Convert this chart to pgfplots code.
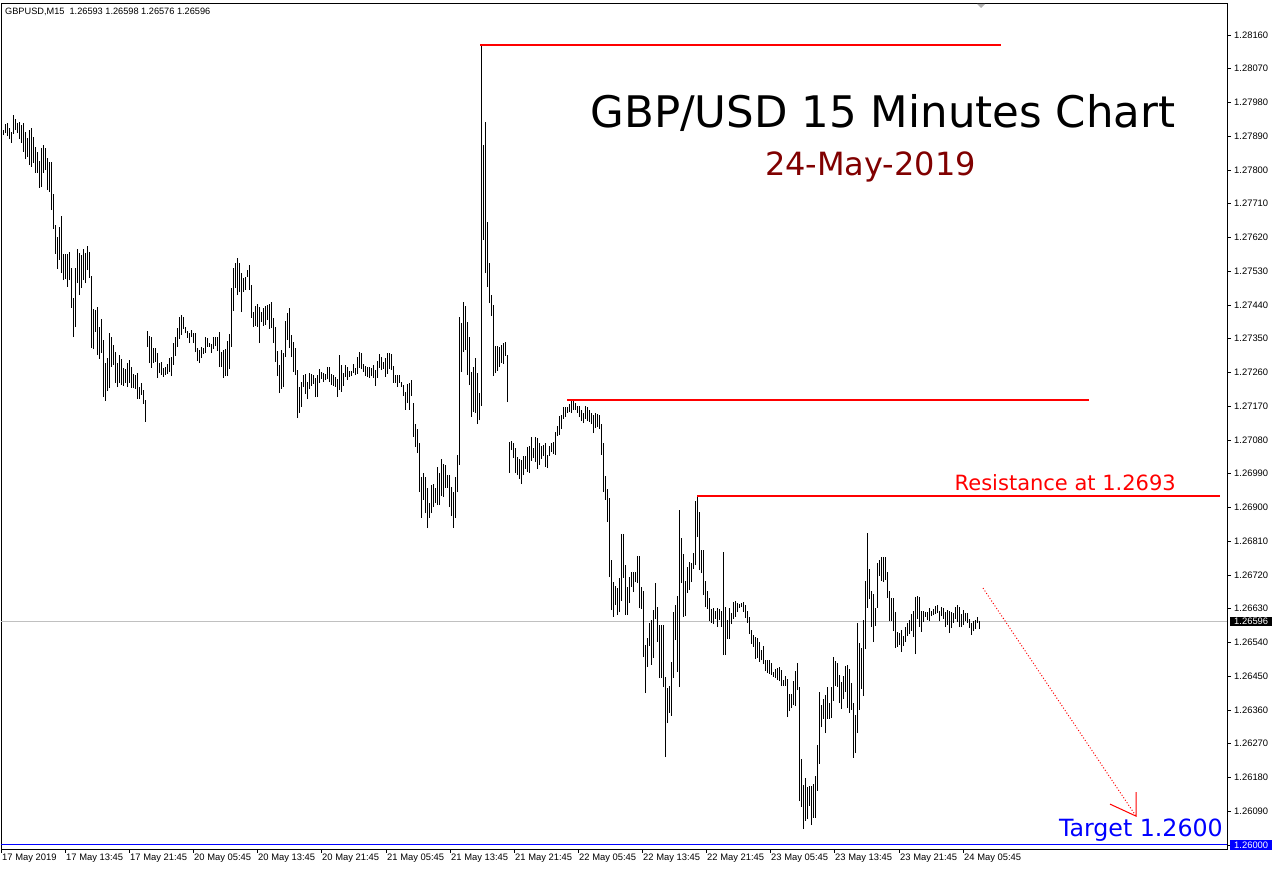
\documentclass[border=0pt]{standalone}
\usepackage{pgfplots}
\pgfplotsset{compat=1.18}
\usepackage{pgfplotstable}
\usepackage{fontspec}
\setmainfont{Liberation Sans}
\newfontfamily\dejavu{DejaVu Sans}
\definecolor{darkred}{RGB}{128,0,0}
\definecolor{bidgray}{RGB}{192,192,192}
\definecolor{mtblue}{RGB}{0,0,255}

% 15-minute bars of GBP/USD: high and low of each bar, oldest first
\pgfplotstableread{
h l
1.27898 1.27872
1.27906 1.27893
1.27922 1.27898
1.27925 1.27890
1.27912 1.27882
1.27901 1.27872
1.27946 1.27896
1.27936 1.27906
1.27925 1.27898
1.27928 1.27882
1.27920 1.27872
1.27925 1.27848
1.27901 1.27829
1.27885 1.27834
1.27906 1.27813
1.27912 1.27808
1.27888 1.27818
1.27861 1.27792
1.27848 1.27792
1.27824 1.27752
1.27858 1.27754
1.27866 1.27792
1.27858 1.27800
1.27832 1.27746
1.27821 1.27741
1.27821 1.27693
1.27736 1.27642
1.27653 1.27576
1.27621 1.27536
1.27648 1.27560
1.27677 1.27525
1.27576 1.27506
1.27576 1.27509
1.27576 1.27488
1.27581 1.27506
1.27538 1.27432
1.27458 1.27354
1.27538 1.27381
1.27589 1.27498
1.27578 1.27466
1.27573 1.27485
1.27589 1.27506
1.27578 1.27498
1.27597 1.27533
1.27581 1.27512
1.27517 1.27325
1.27429 1.27322
1.27426 1.27368
1.27434 1.27306
1.27381 1.27296
1.27402 1.27312
1.27346 1.27194
1.27285 1.27184
1.27298 1.27210
1.27365 1.27218
1.27354 1.27274
1.27333 1.27280
1.27314 1.27232
1.27285 1.27221
1.27306 1.27232
1.27296 1.27226
1.27272 1.27224
1.27269 1.27232
1.27285 1.27221
1.27293 1.27232
1.27274 1.27218
1.27256 1.27218
1.27253 1.27216
1.27258 1.27189
1.27221 1.27189
1.27232 1.27200
1.27213 1.27176
1.27186 1.27128
1.27370 1.27328
1.27357 1.27285
1.27354 1.27272
1.27325 1.27285
1.27325 1.27288
1.27312 1.27245
1.27285 1.27258
1.27288 1.27253
1.27272 1.27248
1.27274 1.27253
1.27282 1.27256
1.27298 1.27261
1.27301 1.27250
1.27338 1.27280
1.27354 1.27304
1.27378 1.27328
1.27408 1.27349
1.27413 1.27360
1.27408 1.27376
1.27381 1.27365
1.27370 1.27352
1.27365 1.27338
1.27373 1.27354
1.27365 1.27338
1.27365 1.27314
1.27325 1.27290
1.27320 1.27285
1.27328 1.27298
1.27325 1.27309
1.27354 1.27312
1.27352 1.27328
1.27338 1.27328
1.27336 1.27312
1.27354 1.27322
1.27354 1.27330
1.27354 1.27317
1.27368 1.27274
1.27314 1.27274
1.27320 1.27245
1.27322 1.27250
1.27344 1.27250
1.27362 1.27269
1.27485 1.27328
1.27538 1.27424
1.27552 1.27485
1.27565 1.27466
1.27552 1.27474
1.27525 1.27421
1.27512 1.27474
1.27514 1.27480
1.27533 1.27514
1.27546 1.27480
1.27493 1.27405
1.27421 1.27381
1.27437 1.27384
1.27442 1.27381
1.27434 1.27338
1.27421 1.27394
1.27432 1.27384
1.27437 1.27386
1.27440 1.27400
1.27442 1.27376
1.27448 1.27378
1.27405 1.27338
1.27381 1.27288
1.27317 1.27250
1.27280 1.27205
1.27320 1.27216
1.27312 1.27221
1.27397 1.27301
1.27418 1.27346
1.27432 1.27325
1.27360 1.27301
1.27341 1.27261
1.27325 1.27253
1.27266 1.27138
1.27221 1.27152
1.27234 1.27168
1.27253 1.27221
1.27256 1.27202
1.27234 1.27189
1.27258 1.27216
1.27256 1.27224
1.27253 1.27229
1.27245 1.27194
1.27253 1.27194
1.27269 1.27232
1.27261 1.27242
1.27258 1.27234
1.27256 1.27240
1.27274 1.27242
1.27274 1.27234
1.27256 1.27226
1.27253 1.27224
1.27248 1.27221
1.27242 1.27194
1.27306 1.27213
1.27280 1.27208
1.27258 1.27224
1.27280 1.27248
1.27274 1.27240
1.27264 1.27248
1.27264 1.27250
1.27282 1.27258
1.27272 1.27253
1.27301 1.27256
1.27314 1.27272
1.27312 1.27269
1.27282 1.27261
1.27277 1.27250
1.27274 1.27248
1.27274 1.27245
1.27272 1.27250
1.27280 1.27245
1.27266 1.27224
1.27290 1.27245
1.27309 1.27272
1.27301 1.27266
1.27288 1.27269
1.27298 1.27248
1.27312 1.27256
1.27312 1.27269
1.27309 1.27266
1.27277 1.27232
1.27253 1.27232
1.27253 1.27221
1.27253 1.27232
1.27234 1.27221
1.27226 1.27197
1.27208 1.27160
1.27229 1.27178
1.27232 1.27160
1.27240 1.27197
1.27178 1.27088
1.27122 1.27061
1.27109 1.27045
1.27072 1.26941
1.26981 1.26872
1.26992 1.26920
1.26981 1.26885
1.26952 1.26845
1.26912 1.26872
1.26960 1.26885
1.26962 1.26901
1.26952 1.26912
1.27008 1.26906
1.26992 1.26906
1.27029 1.26930
1.27016 1.26928
1.27013 1.26952
1.26986 1.26952
1.26986 1.26901
1.26954 1.26877
1.26941 1.26845
1.26981 1.26872
1.27040 1.26941
1.27408 1.27013
1.27392 1.27261
1.27448 1.27314
1.27437 1.27320
1.27394 1.27253
1.27354 1.27226
1.27261 1.27141
1.27274 1.27154
1.27298 1.27152
1.27258 1.27122
1.27205 1.27133
1.28136 1.27170
1.27866 1.27613
1.27928 1.27525
1.27661 1.27488
1.27552 1.27445
1.27466 1.27410
1.27440 1.27250
1.27330 1.27258
1.27330 1.27264
1.27328 1.27274
1.27333 1.27285
1.27338 1.27282
1.27341 1.27304
1.27306 1.27181
1.27074 1.26992
1.27077 1.27053
1.27072 1.27032
1.27058 1.26992
1.27034 1.26986
1.27029 1.26976
1.27026 1.26962
1.27037 1.26986
1.27037 1.27002
1.27061 1.26994
1.27064 1.26992
1.27088 1.27024
1.27058 1.27032
1.27088 1.27021
1.27085 1.27002
1.27072 1.27013
1.27064 1.27029
1.27066 1.27037
1.27072 1.27008
1.27040 1.27005
1.27064 1.27037
1.27072 1.27048
1.27074 1.27042
1.27101 1.27040
1.27117 1.27090
1.27144 1.27093
1.27146 1.27109
1.27168 1.27136
1.27168 1.27141
1.27168 1.27152
1.27176 1.27154
1.27184 1.27152
1.27184 1.27160
1.27178 1.27160
1.27170 1.27152
1.27170 1.27141
1.27160 1.27130
1.27152 1.27125
1.27170 1.27136
1.27168 1.27130
1.27160 1.27128
1.27152 1.27122
1.27146 1.27098
1.27152 1.27112
1.27149 1.27114
1.27146 1.27109
1.27122 1.27040
1.27072 1.26941
1.26984 1.26920
1.26949 1.26861
1.26925 1.26714
1.26760 1.26626
1.26701 1.26608
1.26690 1.26640
1.26685 1.26613
1.26712 1.26621
1.26829 1.26650
1.26829 1.26712
1.26746 1.26613
1.26688 1.26613
1.26714 1.26645
1.26728 1.26688
1.26728 1.26674
1.26728 1.26701
1.26770 1.26698
1.26770 1.26632
1.26688 1.26629
1.26677 1.26501
1.26533 1.26405
1.26552 1.26474
1.26592 1.26530
1.26600 1.26480
1.26626 1.26498
1.26698 1.26602
1.26634 1.26541
1.26586 1.26445
1.26586 1.26445
1.26586 1.26421
1.26448 1.26234
1.26418 1.26325
1.26424 1.26352
1.26488 1.26344
1.26621 1.26445
1.26640 1.26546
1.26664 1.26461
1.26893 1.26421
1.26818 1.26698
1.26776 1.26608
1.26704 1.26610
1.26741 1.26672
1.26754 1.26680
1.26752 1.26701
1.26778 1.26736
1.26917 1.26746
1.26933 1.26821
1.26888 1.26733
1.26786 1.26725
1.26786 1.26666
1.26704 1.26634
1.26677 1.26629
1.26658 1.26597
1.26629 1.26592
1.26632 1.26589
1.26624 1.26602
1.26632 1.26581
1.26629 1.26600
1.26624 1.26581
1.26781 1.26506
1.26634 1.26506
1.26600 1.26549
1.26632 1.26549
1.26618 1.26589
1.26648 1.26602
1.26650 1.26608
1.26645 1.26621
1.26642 1.26632
1.26645 1.26634
1.26648 1.26621
1.26640 1.26605
1.26624 1.26592
1.26608 1.26562
1.26573 1.26536
1.26560 1.26528
1.26554 1.26496
1.26552 1.26498
1.26541 1.26488
1.26520 1.26493
1.26530 1.26482
1.26493 1.26464
1.26493 1.26458
1.26493 1.26456
1.26485 1.26453
1.26461 1.26448
1.26469 1.26445
1.26472 1.26440
1.26474 1.26437
1.26466 1.26424
1.26440 1.26424
1.26450 1.26424
1.26442 1.26341
1.26402 1.26357
1.26402 1.26365
1.26437 1.26373
1.26464 1.26370
1.26485 1.26413
1.26421 1.26117
1.26229 1.26101
1.26160 1.26042
1.26178 1.26064
1.26154 1.26069
1.26157 1.26104
1.26157 1.26053
1.26162 1.26072
1.26184 1.26072
1.26266 1.26144
1.26408 1.26216
1.26373 1.26314
1.26389 1.26336
1.26400 1.26298
1.26421 1.26336
1.26378 1.26336
1.26421 1.26338
1.26501 1.26384
1.26490 1.26424
1.26485 1.26421
1.26453 1.26378
1.26434 1.26362
1.26450 1.26389
1.26477 1.26408
1.26480 1.26365
1.26469 1.26352
1.26432 1.26360
1.26378 1.26232
1.26346 1.26245
1.26592 1.26298
1.26538 1.26360
1.26525 1.26416
1.26600 1.26397
1.26704 1.26522
1.26832 1.26632
1.26736 1.26656
1.26677 1.26581
1.26669 1.26541
1.26632 1.26584
1.26752 1.26632
1.26760 1.26717
1.26768 1.26704
1.26768 1.26701
1.26768 1.26706
1.26728 1.26658
1.26677 1.26597
1.26658 1.26597
1.26658 1.26570
1.26621 1.26525
1.26568 1.26528
1.26565 1.26533
1.26573 1.26514
1.26557 1.26530
1.26581 1.26541
1.26592 1.26557
1.26600 1.26562
1.26616 1.26570
1.26624 1.26554
1.26661 1.26509
1.26664 1.26602
1.26661 1.26581
1.26624 1.26568
1.26624 1.26594
1.26621 1.26608
1.26621 1.26600
1.26632 1.26597
1.26624 1.26610
1.26629 1.26613
1.26637 1.26616
1.26640 1.26618
1.26624 1.26597
1.26634 1.26610
1.26632 1.26602
1.26621 1.26581
1.26626 1.26586
1.26624 1.26565
1.26621 1.26578
1.26618 1.26592
1.26634 1.26602
1.26640 1.26594
1.26634 1.26581
1.26616 1.26581
1.26626 1.26586
1.26618 1.26597
1.26618 1.26592
1.26602 1.26578
1.26592 1.26560
1.26597 1.26570
1.26600 1.26576
1.26608 1.26592
1.26598 1.26576
}\bars

\begin{document}
\begin{tikzpicture}
\useasboundingbox (0pt,0pt) rectangle (1276pt,872pt);
\begin{axis}[
  at={(1pt,23pt)}, anchor=south west,
  scale only axis, width=1226pt, height=845.5pt,
  xmin=1, xmax=1227, ymin=1.259893, ymax=1.28244,
  clip=false,
  axis line style={black, line width=0.8pt},
  tick align=outside, xtick pos=left, ytick pos=right,
  xticklabel pos=left, yticklabel pos=right,
  major tick length=4pt, tick style={black, line width=0.8pt},
  xtick={1,65,129,193,257,321,386,450,514,578,642,706,770,834,899,963},
  xticklabels={17 May 2019,17 May 13:45,17 May 21:45,20 May 05:45,20 May 13:45,20 May 21:45,21 May 05:45,21 May 13:45,21 May 21:45,22 May 05:45,22 May 13:45,22 May 21:45,23 May 05:45,23 May 13:45,23 May 21:45,24 May 05:45},
  ytick={1.26000,1.26090,1.26180,1.26270,1.26360,1.26450,1.26540,1.26630,1.26720,1.26810,1.26900,1.26990,1.27080,1.27170,1.27260,1.27350,1.27440,1.27530,1.27620,1.27710,1.27800,1.27890,1.27980,1.28070,1.28160},
  yticklabels={1.26000,1.26090,1.26180,1.26270,1.26360,1.26450,1.26540,1.26630,1.26720,1.26810,1.26900,1.26990,1.27080,1.27170,1.27260,1.27350,1.27440,1.27530,1.27620,1.27710,1.27800,1.27890,1.27980,1.28070,1.28160},
  ticklabel style={font=\fontsize{9.4}{10}\selectfont, text=black},
  xticklabel style={anchor=north west, inner sep=0pt, xshift=1pt, yshift=-1pt},
  yticklabel style={anchor=west, inner sep=0pt, xshift=3pt},
]
% bid line and the 1.2600 level line
\addplot[bidgray, line width=1pt, forget plot] coordinates {(1,1.26596) (1227,1.26596)};
\addplot[mtblue, line width=1pt, forget plot] coordinates {(1,1.26000) (1227,1.26000)};
% OHLC bars (high-low range)
\addplot[draw=none, mark=none, forget plot,
  error bars/.cd, y dir=plus, y explicit, error mark=none,
  error bar style={draw=black, solid, line width=1pt}]
  table[x expr=2*\coordindex+1.5, y=l, y error plus expr=\thisrow{h}-\thisrow{l}] {\bars};
% red levels
\addplot[red, line width=2pt, forget plot] coordinates {(480,1.28133) (1001,1.28133)};
\addplot[red, line width=2pt, forget plot] coordinates {(567,1.27187) (1089,1.27187)};
\addplot[red, line width=2pt, forget plot] coordinates {(697,1.26931) (1220,1.26931)};
% dotted target arrow
\addplot[red, line width=1pt, dash pattern=on 1pt off 2pt, forget plot] coordinates {(983,1.26685) (1136,1.26077)};
\draw[red, line width=1pt] (axis cs:1110,1.26109) -- (axis cs:1136,1.26077) -- (axis cs:1136,1.26141);
% price tags on the right scale
\node[fill=black, text=white, anchor=west, inner xsep=4pt, inner ysep=1.5pt,
  font=\fontsize{9.4}{10}\selectfont] at (axis cs:1230,1.26596) {1.26596};
\node[fill=mtblue, text=white, anchor=west, inner xsep=4pt, inner ysep=1.5pt,
  font=\fontsize{9.4}{10}\selectfont] at (axis cs:1230,1.26000) {1.26000};
\end{axis}
% header
\node[anchor=west, inner sep=0pt, font=\fontsize{9.2}{10}\selectfont] at (5pt,860pt)
  {GBPUSD,M15\ \ 1.26593 1.26598 1.26576 1.26596};
\fill[black!30] (977pt,868pt) -- (985pt,868pt) -- (981pt,864pt) -- cycle;
% annotations
\node[anchor=base, inner sep=0pt, font=\dejavu\fontsize{43.5}{50}\selectfont] at (883pt,744pt)
  {GBP/USD 15 Minutes Chart};
\node[anchor=base, inner sep=0pt, text=darkred, font=\dejavu\fontsize{32}{38}\selectfont] at (870.5pt,696pt)
  {24-May-2019};
\node[anchor=base east, inner sep=0pt, text=red, font=\dejavu\fontsize{21}{25}\selectfont] at (1176pt,381pt)
  {Resistance at 1.2693};
\node[anchor=base east, inner sep=0pt, text=mtblue, font=\dejavu\fontsize{23.7}{28}\selectfont] at (1223pt,35pt)
  {Target 1.2600};
\end{tikzpicture}
\end{document}
